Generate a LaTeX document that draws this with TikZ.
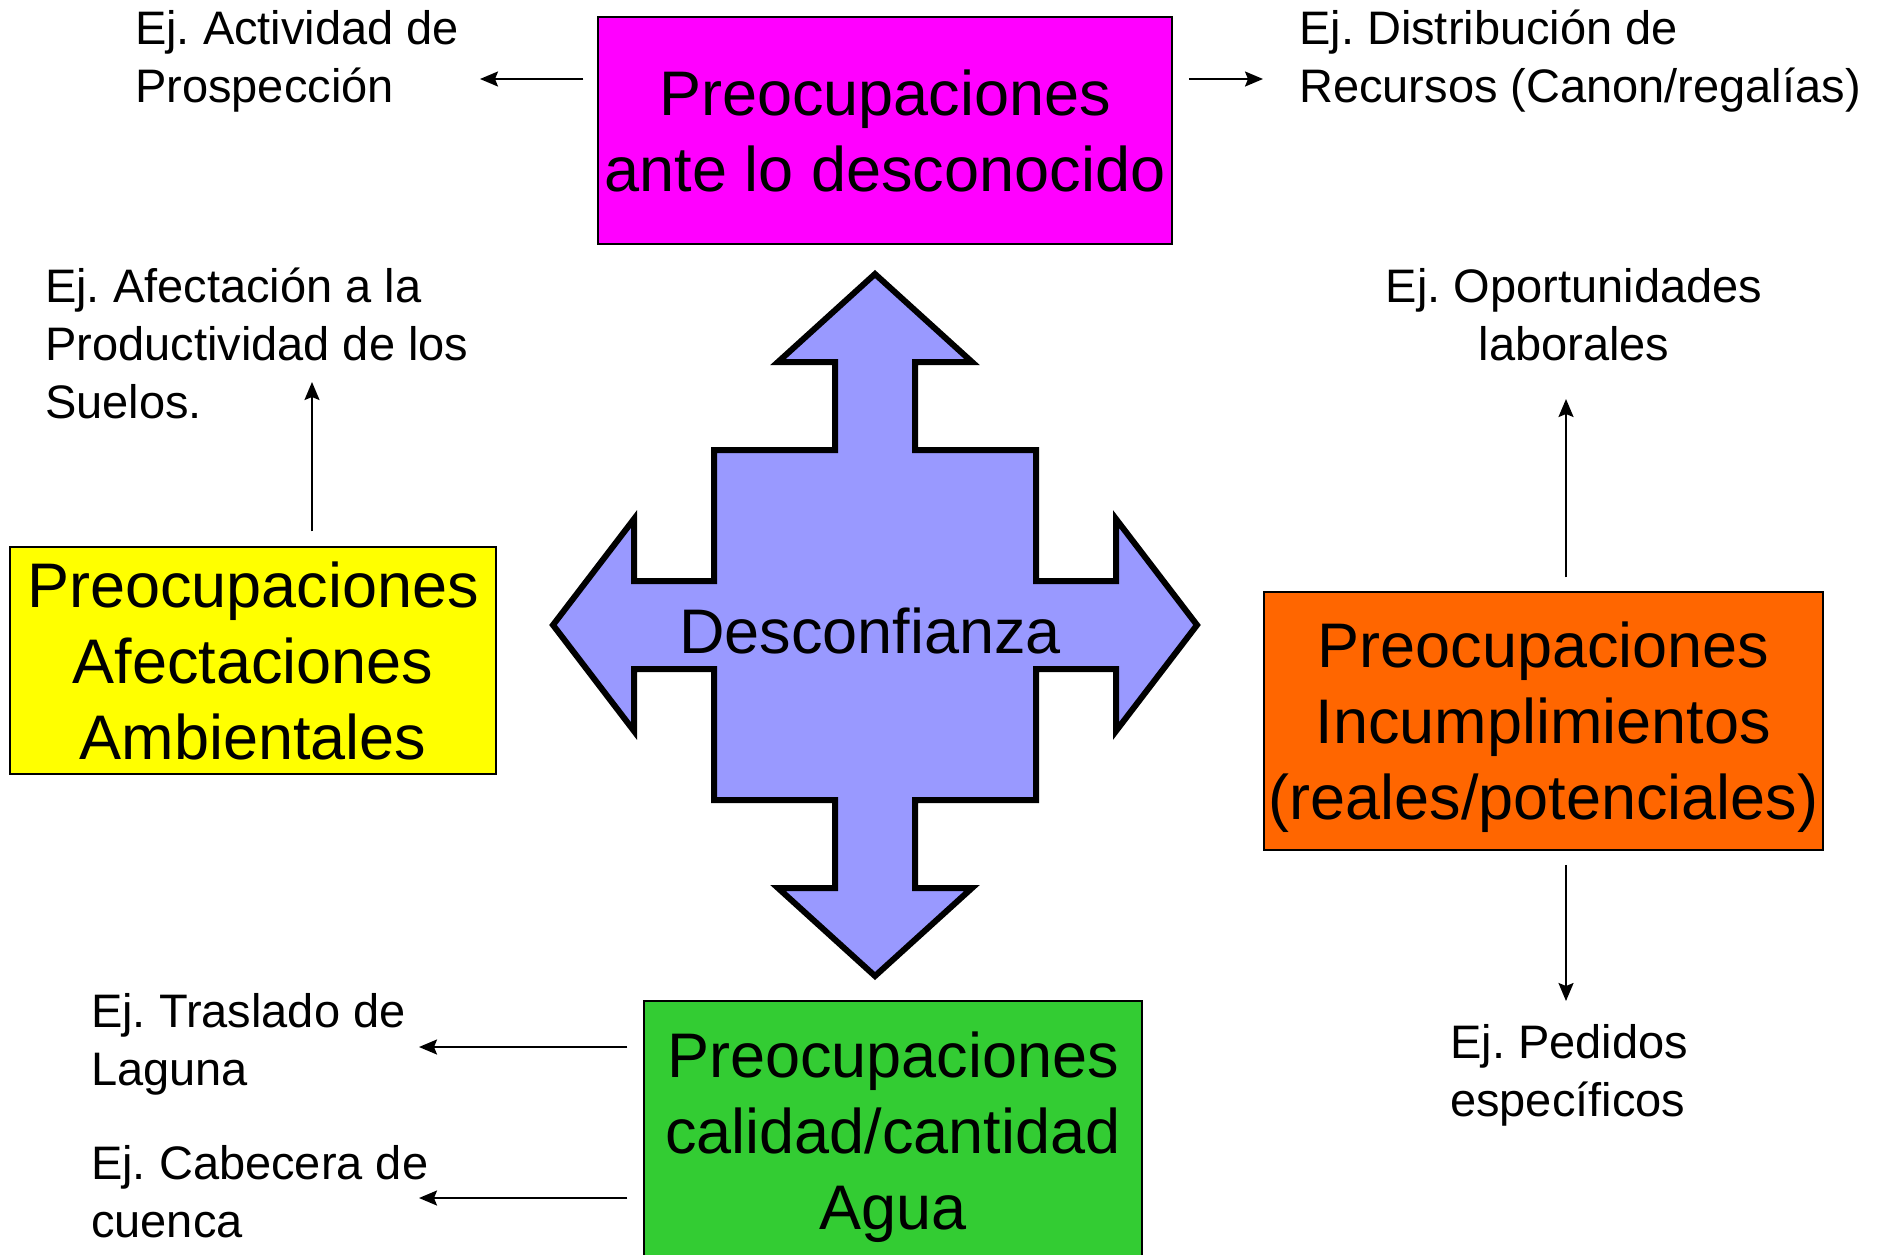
\documentclass[tikz,border=0pt]{standalone}
\usepackage{fontspec}
\setmainfont{Liberation Sans}
\usetikzlibrary{arrows.meta}
\definecolor{rosa}{HTML}{FF00FF}
\definecolor{amarillo}{HTML}{FFFF00}
\definecolor{naranja}{HTML}{FF6600}
\definecolor{verde}{HTML}{33CC33}
\definecolor{lila}{HTML}{9999FF}
\frenchspacing
\begin{document}
\begin{tikzpicture}[x=1pt, y=-1pt,
      caja/.style={draw, line width=1.5pt, inner sep=0pt, align=center,
         font=\fontsize{63}{76}\selectfont},
      ej/.style={inner sep=0pt, align=left, font=\fontsize{47}{58}\selectfont},
      flecha/.style={line width=2pt, -{Stealth[length=18pt, width=15pt, inset=3pt]}}]
      \fill[white] (0, 0) rectangle (1895, 1254);
      \useasboundingbox (0, 0) rectangle (1895, 1254);
      \begin{scope}[shift={(875, 625)}]
         \draw[fill=lila, line width=6pt, miter limit=10] (0, -351) \foreach \p in {
            (97, -263), (40, -263), (40, -175), (161, -175), (161, -44), (241, -44),
            (241, -106), (322, 0), (241, 106), (241, 44), (161, 44), (161, 175),
            (40, 175), (40, 263), (97, 263), (0, 351), (-97, 263), (-40, 263),
            (-40, 175), (-161, 175), (-161, 44), (-241, 44), (-241, 106), (-322, 0),
            (-241, -106), (-241, -44), (-161, -44), (-161, -175), (-40, -175),
            (-40, -263), (-97, -263)} {
            -- \p
         } -- cycle;
         \node[font=\fontsize{63}{76}\selectfont] (desconfianza) at (-5, 6) {Desconfianza};
      \end{scope}
      \node[caja, fill=rosa, minimum width=574pt, minimum height=227pt] (desconocido)
         at (885, 130.5) {Preocupaciones\\ante lo desconocido};
      \node[caja, fill=amarillo, minimum width=486pt, minimum height=227pt] (ambiental)
         at (253, 660.5) {Preocupaciones\\Afectaciones\\Ambientales};
      \node[caja, fill=naranja, minimum width=559pt, minimum height=258pt, text depth=1pt] (incumpl)
         at (1543.5, 721) {Preocupaciones\\Incumplimientos\\(reales/potenciales)};
      \node[caja, fill=verde, minimum width=498pt, minimum height=261pt, text depth=1pt] (agua)
         at (893, 1131.5) {Preocupaciones\\calidad/cantidad\\Agua};
      \node[ej, anchor=north west] (ejact) at (135, 10) {Ej. Actividad de\\Prospección};
      \node[ej, anchor=north west] (ejdist) at (1299, 10) {Ej. Distribución de\\Recursos (Canon/regalías)};
      \node[ej, anchor=north west] (ejafect) at (45, 268) {Ej. Afectación a la\\Productividad de los\\Suelos.};
      \node[ej, align=center, anchor=north] (ejoport) at (1574, 268) {Ej. Oportunidades\\laborales};
      \node[ej, anchor=north west] (ejped) at (1450, 1024) {Ej. Pedidos\\específicos};
      \node[ej, anchor=north west] (ejtras) at (91, 993) {Ej. Traslado de\\Laguna};
      \node[ej, anchor=north west] (ejcab) at (91, 1145) {Ej. Cabecera de\\cuenca};
      \coordinate (pact) at (480, 79);
      \coordinate (pdist) at (1263, 79);
      \coordinate (pafect) at (312, 382);
      \coordinate (poport) at (1566, 399);
      \coordinate (pped) at (1566, 1001);
      \coordinate (ptras) at (419, 1047);
      \coordinate (pcab) at (419, 1198);
      \draw[flecha, shorten <=14pt] (desconocido.west |- pact) -- (pact);
      \draw[flecha, shorten <=16pt] (desconocido.east |- pdist) -- (pdist);
      \draw[flecha, shorten <=15pt] (ambiental.north -| pafect) -- (pafect);
      \draw[flecha, shorten <=14pt] (incumpl.north -| poport) -- (poport);
      \draw[flecha, shorten <=14pt] (incumpl.south -| pped) -- (pped);
      \draw[flecha, shorten <=16pt] (agua.west |- ptras) -- (ptras);
      \draw[flecha, shorten <=16pt] (agua.west |- pcab) -- (pcab);
   \end{tikzpicture}
\end{document}
